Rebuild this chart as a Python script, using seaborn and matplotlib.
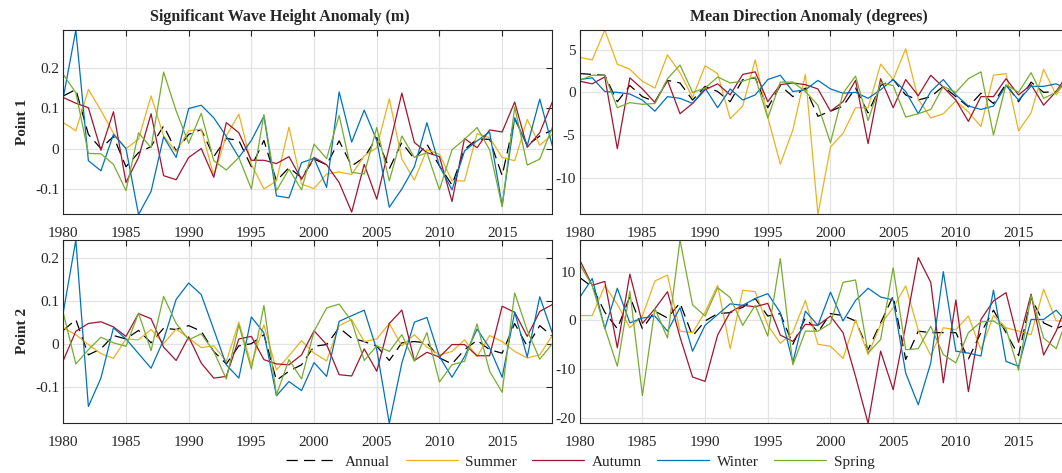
import numpy as np
import pandas as pd
import seaborn as sns
import matplotlib
matplotlib.use("Agg")
import matplotlib.pyplot as plt
from matplotlib.ticker import FuncFormatter

sns.set_style("white")
plt.rcParams['font.family'] = ['Liberation Serif', 'DejaVu Serif']

years = np.arange(1980, 2020)
seasons = ['Annual', 'Summer', 'Autumn', 'Winter', 'Spring']

# ---- Point 1, significant wave height anomaly (m)
annual_hs1 = [0.13, 0.146, 0.035, 0.0, 0.03, -0.045, -0.01, 0.005, 0.056, -0.006,
              0.035, 0.047, -0.02, 0.025, 0.02, -0.045, 0.02, -0.08, -0.047, -0.072,
              -0.026, -0.04, 0.019, -0.043, -0.022, 0.027, -0.05, 0.015, -0.026, 0.011,
              -0.043, -0.09, -0.002, 0.023, 0.023, -0.067, 0.074, 0.008, 0.031, 0.046]
summer_hs1 = [0.064, 0.044, 0.146, 0.094, 0.038, 0.0, 0.023, 0.13, 0.031, -0.008,
              0.044, 0.048, -0.067, 0.031, 0.085, -0.039, -0.1, -0.08, 0.053, -0.088,
              -0.099, -0.063, -0.058, -0.064, -0.018, 0.002, 0.123, -0.026, -0.078, -0.003,
              -0.014, -0.08, -0.08, 0.037, 0.027, -0.022, -0.03, 0.072, 0.008, 0.035]
autumn_hs1 = [0.126, 0.112, 0.101, -0.004, 0.091, -0.084, -0.022, 0.086, -0.067, -0.077,
              -0.022, 0.0, -0.071, 0.064, 0.039, -0.029, -0.029, -0.037, -0.02, -0.076,
              -0.022, -0.04, -0.084, -0.157, -0.039, -0.125, 0.005, 0.137, 0.015, -0.01,
              -0.02, -0.131, 0.025, 0.002, 0.046, 0.041, 0.115, 0.003, 0.039, 0.115]
winter_hs1 = [0.126, 0.293, -0.03, -0.055, 0.035, 0.0, -0.163, -0.106, 0.029, -0.022,
              0.099, 0.107, 0.076, 0.03, -0.022, 0.02, 0.08, -0.117, -0.122, -0.035,
              -0.024, -0.096, 0.14, 0.016, 0.095, 0.02, -0.145, -0.1, -0.045, 0.064,
              -0.043, -0.102, -0.006, 0.019, 0.041, -0.141, 0.076, 0.007, 0.122, 0.007]
spring_hs1 = [0.183, 0.138, -0.012, -0.013, -0.039, -0.104, 0.039, 0.002, 0.189, 0.093,
              0.013, 0.087, -0.03, -0.053, -0.022, -0.1, 0.084, -0.104, -0.051, -0.102,
              0.011, -0.025, 0.082, -0.059, -0.063, 0.052, -0.08, 0.031, -0.022, -0.01,
              -0.102, -0.003, 0.023, 0.052, -0.003, -0.144, 0.103, -0.041, -0.026, 0.052]

# ---- Point 1, mean direction anomaly (degrees)
annual_dir1 = [2.2, 2.1, 2.0, -1.1, 0.8, -0.5, -1.1, 1.4, 1.1, -0.9,
               0.7, 0.1, -1.1, 1.5, 1.7, -1.8, 0.8, -0.5, 0.5, -2.8,
               -2.2, -1.6, 0.5, -2.4, 0.8, 1.5, -0.3, -0.9, -0.5, 0.7,
               -0.5, -1.7, -0.1, -1.3, 1.0, -1.1, 1.2, 0.0, 0.1, 1.3]
summer_dir1 = [4.1, 3.8, 7.3, 3.3, 2.7, 1.3, 0.5, 4.4, 2.3, -0.6,
               3.1, 2.2, -3.1, -1.6, 3.8, -2.9, -8.4, -4.4, 2.1, -14.3,
               -6.4, -4.8, -1.8, -1.8, 3.3, 1.5, 5.1, -0.8, -3.0, -2.5,
               -1.0, -2.3, -4.0, 2.0, 2.2, -4.5, -2.4, 2.7, -0.3, 1.9]
autumn_dir1 = [1.3, 1.0, 1.8, -6.6, 1.7, 0.4, -1.2, 1.4, -2.5, -1.3,
               0.3, 1.0, -0.3, 2.1, 2.4, -1.1, 0.9, 1.1, 0.9, 0.4,
               -2.2, -1.1, 1.4, -6.0, 1.6, -1.8, 1.5, -0.4, 2.0, 0.6,
               -0.9, -3.4, -0.5, -0.5, 1.6, -0.3, 0.9, -1.5, 0.1, 2.3]
winter_dir1 = [1.5, 1.7, 0.1, 0.0, -0.2, -0.9, -2.2, -0.5, -0.7, -1.3,
               0.5, -1.8, 0.4, -0.9, -0.3, 1.5, 2.0, 0.1, 0.3, 1.4,
               0.4, -0.1, 0.0, -0.7, 0.3, 1.5, 0.1, -2.5, 0.1, 1.5,
               -0.3, -1.6, -2.0, -1.6, 0.8, -0.9, 0.7, 0.7, 1.0, 0.3]
spring_dir1 = [1.4, 2.0, 2.0, -1.8, -1.2, -1.4, -1.3, 1.6, 3.2, 0.0,
               0.5, 1.8, 1.1, 1.3, 1.8, -3.0, 1.2, 1.2, 0.1, -1.5,
               -5.9, -0.1, 1.9, -3.3, 1.1, 0.8, -2.9, -2.5, -2.0, 0.7,
               0.0, 1.6, 2.4, -5.0, 0.9, 0.0, 2.3, -0.7, 0.0, 1.9]

# ---- Point 2, significant wave height anomaly (m)
annual_hs2 = [0.031, 0.056, -0.026, -0.012, 0.019, 0.011, 0.031, 0.002, 0.036, 0.033,
              0.042, 0.029, -0.018, -0.047, -0.005, 0.0, 0.021, -0.085, -0.064, -0.049,
              -0.006, -0.002, 0.037, 0.013, 0.005, -0.006, -0.039, 0.002, 0.005, 0.002,
              -0.033, -0.047, -0.014, 0.008, -0.014, -0.022, 0.047, -0.006, 0.042, 0.017]
summer_hs2 = [0.037, 0.021, -0.002, -0.023, -0.034, 0.011, 0.009, 0.033, 0.0, 0.034,
              0.013, -0.009, -0.005, -0.041, 0.05, -0.049, 0.044, -0.061, -0.028, 0.007,
              -0.022, -0.04, 0.042, 0.056, 0.005, 0.011, 0.047, -0.005, 0.021, -0.008,
              -0.026, -0.018, 0.009, -0.03, 0.019, 0.005, -0.018, -0.033, -0.026, 0.019]
autumn_hs2 = [-0.039, 0.029, 0.047, 0.051, 0.039, 0.017, 0.07, 0.058, -0.008, -0.039,
              0.016, -0.045, -0.08, -0.076, 0.011, 0.017, -0.037, -0.047, -0.049, -0.026,
              0.03, -0.002, -0.072, -0.075, -0.012, -0.064, 0.047, 0.078, -0.039, -0.02,
              -0.031, -0.002, -0.002, -0.028, -0.028, 0.087, 0.073, 0.017, 0.075, 0.091]
winter_hs2 = [0.073, 0.241, -0.146, -0.08, 0.037, 0.011, -0.023, -0.057, 0.009, 0.103,
              0.141, 0.114, 0.033, -0.049, -0.08, 0.062, 0.025, -0.121, -0.088, -0.109,
              -0.044, -0.076, 0.052, 0.065, 0.078, -0.014, -0.185, -0.045, 0.05, 0.061,
              -0.03, -0.078, -0.03, 0.034, -0.01, -0.078, 0.073, -0.031, 0.109, 0.025]
spring_hs2 = [0.071, -0.047, -0.014, 0.015, 0.002, -0.006, 0.071, -0.016, 0.11, 0.047,
              0.009, 0.023, -0.018, -0.082, 0.044, -0.059, 0.089, -0.119, -0.037, -0.082,
              0.029, 0.083, 0.092, 0.052, -0.039, -0.005, -0.018, 0.021, -0.041, 0.026,
              -0.089, -0.049, -0.041, 0.046, -0.064, -0.113, 0.118, 0.031, -0.036, 0.0]

# ---- Point 2, mean direction anomaly (degrees)
annual_dir2 = [8.8, 6.9, 1.7, -1.7, 4.9, -1.7, 1.9, 0.5, 3.6, -3.2,
               -0.1, 1.4, 1.6, 2.7, 4.5, 0.9, 1.4, -4.9, 0.5, -2.4,
               1.4, 1.0, -0.1, -6.0, -0.5, 5.0, -8.0, -2.2, -2.5, -2.5,
               -2.5, -7.9, -2.5, 2.1, -2.5, -7.2, 4.7, -0.5, -1.7, -0.6]
summer_dir2 = [1.0, 1.0, 7.1, 3.3, -1.5, 0.9, 8.1, 9.3, -2.2, -2.5,
               1.7, 7.2, -5.8, 6.2, 5.9, -1.0, -4.7, -2.4, 4.1, -4.9,
               -5.3, -7.8, 0.1, -7.0, -0.8, 2.6, 7.1, -2.0, -7.2, -1.5,
               -1.9, 0.9, -6.0, 1.0, -1.5, -2.2, -2.9, 6.4, -0.1, -0.1]
autumn_dir2 = [12.4, 7.2, 8.0, -5.6, 9.5, -0.6, 2.4, 5.9, -3.4, -11.6,
               -12.5, -3.0, 1.7, 3.1, 2.8, 3.5, -3.0, -4.3, -0.8, -1.0,
               0.9, -2.5, -11.5, -21.1, -6.3, -14.2, -1.0, 12.9, 7.8, -12.8,
               4.2, -14.6, 0.2, 4.0, 5.7, -4.5, 5.4, -7.1, -2.2, 4.3]
winter_dir2 = [4.7, 8.6, -1.7, 6.6, -0.5, 0.5, 0.9, -2.2, 2.6, -6.3,
               -1.0, 1.2, 3.4, 3.1, 4.5, 5.5, 1.6, -8.6, 1.9, -1.0,
               5.8, -0.1, 4.1, 6.6, 4.8, 4.2, -10.8, -17.3, -8.7, 10.0,
               -6.3, -6.7, -7.3, 6.2, -8.4, -9.4, 0.2, 0.2, 2.1, -0.8]
spring_dir2 = [11.5, 7.1, -1.5, -9.4, 6.0, -15.4, 2.4, -3.6, 16.5, 3.2,
               0.9, 6.7, 4.7, -1.0, 3.1, -3.2, 12.7, -9.1, -2.2, -2.2,
               -0.6, 7.8, 8.3, -6.7, -3.9, 10.8, -6.0, -5.8, -1.2, -7.0,
               -8.7, -2.5, -0.3, -0.1, -1.7, -10.2, 5.1, -3.6, -5.8, 1.5]

xticks = [1980, 1985, 1990, 1995, 2000, 2005, 2010, 2015]
yticks_hs1 = [-0.1, 0, 0.1, 0.2]
yticks_dir1 = [-10, -5, 0, 5]
yticks_hs2 = [-0.1, 0, 0.1, 0.2]
yticks_dir2 = [-20, -10, 0, 10]
titles = ['Significant Wave Height Anomaly (m)', 'Mean Direction Anomaly (degrees)']
row_labels = ['Point 1', 'Point 2']

colors = {'Annual': 'black', 'Summer': '#EDB120', 'Autumn': '#A2142F',
          'Winter': '#0072BD', 'Spring': '#77AC30'}

panels = [
    ([annual_hs1, summer_hs1, autumn_hs1, winter_hs1, spring_hs1], yticks_hs1),
    ([annual_dir1, summer_dir1, autumn_dir1, winter_dir1, spring_dir1], yticks_dir1),
    ([annual_hs2, summer_hs2, autumn_hs2, winter_hs2, spring_hs2], yticks_hs2),
    ([annual_dir2, summer_dir2, autumn_dir2, winter_dir2, spring_dir2], yticks_dir2),
]

W, H = 1062, 473
fig = plt.figure(figsize=(W / 100, H / 100), dpi=100)

# axes boxes in pixels: left, top, width, height (right column runs past the edge)
boxes = [(63.3, 30, 489, 184.5), (579.7, 30, 489, 184.5),
         (63.3, 240, 489, 183.3), (579.7, 240, 489, 183.3)]

fmt = FuncFormatter(lambda v, p: f'{v:g}')
axes = []
for (series, yt), (l, t, w, h) in zip(panels, boxes):
    ax = fig.add_axes([l / W, 1 - (t + h) / H, w / W, h / H])
    df = pd.DataFrame({'year': np.tile(years, 5),
                       'value': np.concatenate(series),
                       'season': np.repeat(seasons, len(years))})
    sns.lineplot(data=df, x='year', y='value', hue='season', style='season',
                 hue_order=seasons, style_order=seasons, palette=colors,
                 dashes={'Annual': (9, 5), 'Summer': '', 'Autumn': '',
                         'Winter': '', 'Spring': ''},
                 linewidth=0.9, ax=ax, legend=False)
    ax.set_xlim(1980, 2019)
    ax.set_ylim(df['value'].min(), df['value'].max())
    ax.set_xticks(xticks)
    ax.set_yticks(yt)
    ax.xaxis.set_major_formatter(fmt)
    ax.yaxis.set_major_formatter(fmt)
    ax.set_xlabel('')
    ax.set_ylabel('')
    ax.grid(True, color='#e3e3e3', linewidth=0.9)
    ax.set_axisbelow(True)
    ax.tick_params(direction='in', top=True, right=True, length=4, width=0.8,
                   labelsize=11, labelcolor='#262626')
    ax.tick_params(axis='x', pad=9)
    ax.tick_params(axis='y', pad=3)
    for s in ax.spines.values():
        s.set_linewidth(0.8)
        s.set_color('#262626')
    axes.append(ax)

# column titles and row labels
fig.text(280 / W, 1 - 17 / H, titles[0], fontsize=11.5, fontweight='bold',
         ha='center', va='center')
fig.text(809 / W, 1 - 17 / H, titles[1], fontsize=11.5, fontweight='bold',
         ha='center', va='center')
fig.text(22 / W, 1 - 122 / H, row_labels[0], rotation=90, fontsize=11,
         fontweight='bold', ha='center', va='center')
fig.text(22 / W, 1 - 331 / H, row_labels[1], rotation=90, fontsize=11,
         fontweight='bold', ha='center', va='center')

handles = []
for name in seasons:
    ls = (0, (9, 5)) if name == 'Annual' else '-'
    h, = axes[0].plot([], [], color=colors[name], linewidth=0.9, linestyle=ls)
    handles.append(h)
fig.legend(handles, seasons, loc='center', bbox_to_anchor=(580 / W, 1 - 462 / H),
           ncol=5, frameon=False, fontsize=11, handlelength=3.4,
           handletextpad=0.5, columnspacing=1.0)

fig.savefig('out.png', dpi=100)
